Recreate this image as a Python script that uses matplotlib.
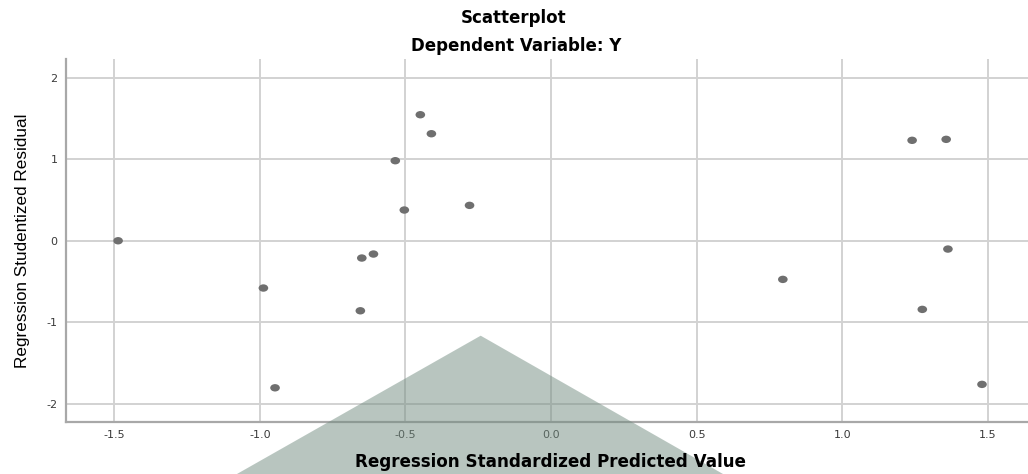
import matplotlib
matplotlib.use("Agg")
import matplotlib.pyplot as plt
from matplotlib.patches import Polygon
from matplotlib.path import Path
from matplotlib.transforms import Affine2D

plt.rcParams['font.family'] = ['Liberation Sans', 'DejaVu Sans']
plt.rcParams['axes.unicode_minus'] = False

# standardized predicted value vs studentized residual
pred = [-1.487, -0.988, -0.948, -0.655, -0.650, -0.610, -0.535, -0.504,
        -0.449, -0.411, -0.280, 0.796, 1.240, 1.275, 1.357, 1.363, 1.480]
resid = [0.000, -0.580, -1.804, -0.859, -0.212, -0.163, 0.982, 0.377,
         1.546, 1.313, 0.434, -0.474, 1.232, -0.842, 1.244, -0.102, -1.762]

xticks = [-1.5, -1.0, -0.5, 0.0, 0.5, 1.0, 1.5]
yticks = [-2, -1, 0, 1, 2]

# the source image is a bit stretched sideways, so dots are slightly oval
oval = Path.unit_circle().transformed(Affine2D().scale(1.3, 1.0))

fig = plt.figure(figsize=(10.28, 4.74), dpi=100)
ax = fig.add_axes([0.0639, 0.1103, 0.9361, 0.7646])

ax.scatter(pred, resid, s=48, marker=oval, color='#6f6f6f',
           edgecolors='none', zorder=3)

ax.set_xlim(-1.667, 1.638)
ax.set_ylim(-2.22, 2.226)
ax.set_xticks(xticks)
ax.set_xticklabels(['%.1f' % v for v in xticks])
ax.set_yticks(yticks)
ax.set_yticklabels([str(v) for v in yticks])
ax.tick_params(length=0, labelsize=8, colors='#3a3a3a')
ax.tick_params(axis='x', pad=6)
ax.tick_params(axis='y', pad=6)
for lab in ax.get_xticklabels() + ax.get_yticklabels():
    lab.set_family('DejaVu Sans')
ax.grid(True, color='#d2d2d2', linewidth=1.4)
ax.set_axisbelow(True)

for side in ['top', 'right']:
    ax.spines[side].set_visible(False)
for side in ['left', 'bottom']:
    ax.spines[side].set_color('#a8a8a8')
    ax.spines[side].set_linewidth(1.6)

ax.set_ylabel('Regression Studentized Residual', fontsize=12.3, labelpad=12)

fig.text(0.5, 1 - 18 / 474, 'Scatterplot', ha='center', va='center',
         fontsize=12, fontweight='bold', family='DejaVu Sans')
fig.text(0.502, 1 - 46 / 474, 'Dependent Variable: Y', ha='center', va='center',
         fontsize=12, fontweight='bold', family='DejaVu Sans')

# grey overlay shape sitting over the lower part of the image
tri = Polygon([[0.4676, 0.2918], [0.2305, 0.0], [0.7033, 0.0]], closed=True,
              transform=fig.transFigure, facecolor='#738d81', alpha=0.5,
              edgecolor='none', zorder=5)
fig.add_artist(tri)

fig.text(0.535, 1 - 462 / 474, 'Regression Standardized Predicted Value',
         ha='center', va='center', fontsize=12.1, fontweight='bold',
         family='DejaVu Sans', zorder=6)

fig.savefig('out.png', dpi=100)
